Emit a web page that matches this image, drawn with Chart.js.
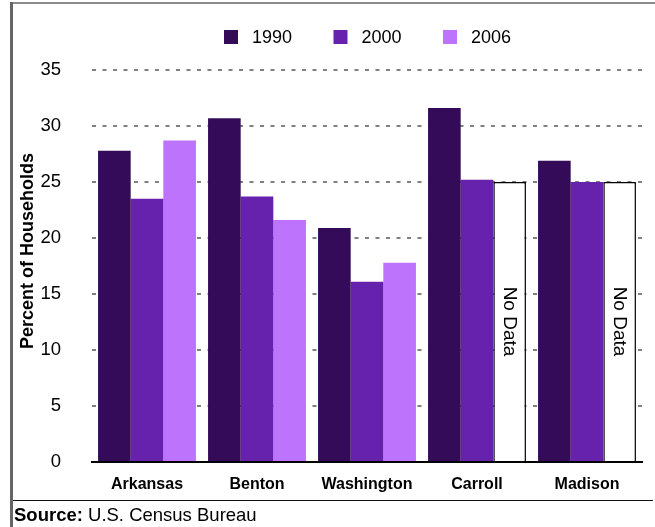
<!DOCTYPE html>
<html><head><meta charset="utf-8">
<script src="https://cdn.jsdelivr.net/npm/chart.js@4.4.0/dist/chart.umd.min.js"></script>
<style>html,body{margin:0;padding:0;background:#fff;overflow:hidden;}</style>
</head><body>
<canvas id="c" width="655" height="527" style="display:block;width:655px;height:527px"></canvas>
<script>
const categories = ['Arkansas', 'Benton', 'Washington', 'Carroll', 'Madison'];
const seriesNames = ['1990', '2000', '2006'];
const values1990 = [27.8, 30.7, 20.9, 31.6, 26.9];
const values2000 = [23.5, 23.7, 16.1, 25.2, 25.0];
const values2006 = [28.7, 21.6, 17.8, null, null];
const noDataHeight = [null, null, null, 25, 25];
const noDataLabel = 'No Data';
const yMin = 0, yMax = 35, yStep = 5;
const yTitle = 'Percent of Households';
const sourceBold = 'Source:';
const sourceText = ' U.S. Census Bureau';
const seriesColors = ['#330B58', '#6621AD', '#BE73FD'];

const FONT = '"Liberation Sans", Arial, Helvetica, sans-serif';

const framePlugin = {
  id: 'frame',
  beforeDraw(chart) {
    const ctx = chart.ctx;
    ctx.save();
    ctx.fillStyle = '#fff';
    ctx.fillRect(0, 0, chart.width, chart.height);
    ctx.fillStyle = '#8a8a8a';
    ctx.fillRect(10, 2, chart.width - 10, 2);
    ctx.fillStyle = '#666';
    ctx.fillRect(10, 2, 3, chart.height - 2);
    ctx.restore();
  },
  afterDraw(chart) {
    const ctx = chart.ctx;
    ctx.save();
    // separator line
    ctx.fillStyle = '#111';
    ctx.fillRect(13, 500, 640, 1);
    // source text
    ctx.textBaseline = 'alphabetic';
    ctx.textAlign = 'left';
    ctx.fillStyle = '#000';
    ctx.font = 'bold 18.5px ' + FONT;
    ctx.fillText(sourceBold, 14, 521);
    const w = ctx.measureText(sourceBold).width;
    ctx.font = '18.5px ' + FONT;
    ctx.fillText(sourceText, 14 + w, 521);
    // y axis title
    ctx.save();
    ctx.font = 'bold 18px ' + FONT;
    ctx.textAlign = 'center';
    ctx.textBaseline = 'middle';
    ctx.translate(28, 251);
    ctx.rotate(-Math.PI / 2);
    ctx.fillText(yTitle, 0, 0);
    ctx.restore();
    // legend
    ctx.font = '18px ' + FONT;
    ctx.textBaseline = 'middle';
    seriesNames.forEach((name, i) => {
      const bx = 224 + i * 109.5;
      ctx.fillStyle = seriesColors[i];
      ctx.fillRect(bx, 30, 14, 14);
      ctx.fillStyle = '#000';
      ctx.fillText(name, bx + 28, 38);
    });
    ctx.restore();
  },
  afterDatasetsDraw(chart) {
    const ctx = chart.ctx;
    const meta = chart.getDatasetMeta(3);
    ctx.save();
    ctx.font = '19px ' + FONT;
    ctx.fillStyle = '#000';
    ctx.textAlign = 'center';
    ctx.textBaseline = 'middle';
    meta.data.forEach((el, i) => {
      if (noDataHeight[i] == null) return;
      ctx.save();
      ctx.translate(el.x, (el.y + el.base) / 2);
      ctx.rotate(Math.PI / 2);
      ctx.fillText(noDataLabel, 0, 0);
      ctx.restore();
    });
    ctx.restore();
  }
};

new Chart(document.getElementById('c'), {
  type: 'bar',
  data: {
    labels: categories,
    datasets: [
      { label: seriesNames[0], data: values1990, backgroundColor: seriesColors[0], stack: 's0' },
      { label: seriesNames[1], data: values2000, backgroundColor: seriesColors[1], stack: 's1' },
      { label: seriesNames[2], data: values2006, backgroundColor: seriesColors[2], stack: 's2' },
      { label: noDataLabel, data: noDataHeight, backgroundColor: '#ffffff', borderColor: '#000', borderWidth: 1.5, stack: 's2' }
    ]
  },
  options: {
    responsive: false,
    devicePixelRatio: 1,
    animation: false,
    categoryPercentage: 0.89,
    barPercentage: 1.0,
    layout: { padding: { left: 14, top: 70, right: 13, bottom: 35 } },
    plugins: { legend: { display: false }, tooltip: { enabled: false } },
    scales: {
      x: {
        grid: { display: false, drawTicks: false },
        border: { display: true, color: '#000', width: 2 },
        ticks: { color: '#000', padding: 13, font: { family: FONT, size: 16, weight: 'bold' } },
        afterFit(scale) { scale.height = 30; }
      },
      y: {
        stacked: false,
        min: yMin, max: yMax,
        border: { display: false, dash: [4, 6.5] },
        grid: {
          drawTicks: false,
          color: (c) => c.tick && c.tick.value === 0 ? 'rgba(0,0,0,0)' : '#808080',
          lineWidth: 2
        },
        ticks: { stepSize: yStep, color: '#000', padding: 31, font: { family: FONT, size: 18.5 } },
        title: { display: false, text: yTitle },
        afterFit(scale) { scale.width = 78; }
      }
    }
  },
  plugins: [framePlugin]
});
</script>
</body></html>
